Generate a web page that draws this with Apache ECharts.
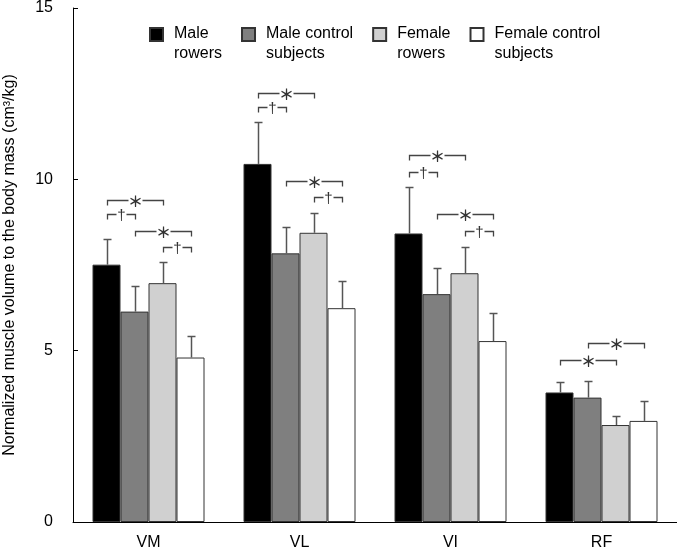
<!DOCTYPE html>
<html>
<head>
<meta charset="utf-8">
<script src="https://cdn.jsdelivr.net/npm/echarts@6/dist/echarts.min.js"></script>
<style>
html,body{margin:0;padding:0;background:#fff;}
#chart{width:677px;height:553px;}
</style>
</head>
<body>
<div id="chart"></div>
<script>
// ---- data ----
const categories = ['VM', 'VL', 'VI', 'RF'];
const seriesNames = ['Male\nrowers', 'Male control\nsubjects', 'Female\nrowers', 'Female control\nsubjects'];
const maleRowers = [7.51, 10.45, 8.42, 3.78];
const maleControl = [6.14, 7.84, 6.65, 3.63];
const femaleRowers = [6.97, 8.44, 7.26, 2.83];
const femaleControl = [4.80, 6.24, 5.28, 2.95];
const maleRowersSD = [0.76, 1.23, 1.36, 0.30];
const maleControlSD = [0.76, 0.76, 0.77, 0.48];
const femaleRowersSD = [0.63, 0.57, 0.77, 0.27];
const femaleControlSD = [0.63, 0.80, 0.83, 0.58];
const yTicks = [0, 5, 10, 15];
// significance brackets: category index, from group, to group, height, mark
const bracketCategory = [0, 0, 0, 0, 1, 1, 1, 1, 2, 2, 2, 2, 3, 3];
const bracketFrom =     [0, 0, 1, 2, 0, 0, 1, 2, 0, 0, 1, 2, 1, 0];
const bracketTo =       [2, 1, 3, 3, 2, 1, 3, 3, 2, 1, 3, 3, 3, 2];
const bracketHeight =   [9.40, 8.99, 8.49, 8.02, 12.52, 12.11, 9.95, 9.48, 10.71, 10.21, 8.99, 8.49, 5.22, 4.73];
const bracketMark =     ['*', '†', '*', '†', '*', '†', '*', '†', '*', '†', '*', '†', '*', '*'];

// ---- chart ----
const BAR_W = 28;
const FONT = 'Liberation Sans, Arial, sans-serif';
const means = [maleRowers, maleControl, femaleRowers, femaleControl];
const sds = [maleRowersSD, maleControlSD, femaleRowersSD, femaleControlSD];
const fills = ['#000000', '#7f7f7f', '#d0d0d0', '#ffffff'];

const barSeries = seriesNames.map((name, i) => ({
  name: name,
  type: 'bar',
  data: means[i],
  barWidth: BAR_W,
  barGap: '0%',
  itemStyle: { color: fills[i], borderColor: '#333', borderWidth: 1 },
  emphasis: { disabled: true },
  z: 2
}));

const errData = [];
for (let s = 0; s < 4; s++) {
  for (let c = 0; c < categories.length; c++) {
    errData.push([c, s, means[s][c], means[s][c] + sds[s][c]]);
  }
}

const errSeries = {
  type: 'custom',
  data: errData,
  z: 5,
  silent: true,
  renderItem: function (params, api) {
    const c = api.value(0), s = api.value(1);
    const p0 = api.coord([c, api.value(2)]);
    const p1 = api.coord([c, api.value(3)]);
    const x = Math.round(p0[0] + (s - 1.5) * BAR_W) + 0.5;
    const yt = Math.round(p1[1]) + 0.5;
    return {
      type: 'group',
      children: [
        { type: 'line', shape: { x1: x, y1: p0[1], x2: x, y2: yt }, style: { stroke: '#555', lineWidth: 1.5 } },
        { type: 'line', shape: { x1: x - 4, y1: yt, x2: x + 4, y2: yt }, style: { stroke: '#555', lineWidth: 1.5 } }
      ]
    };
  }
};

const bracketData = bracketCategory.map((c, i) => [c, bracketFrom[i], bracketTo[i], bracketHeight[i]]);
const bracketSeries = {
  type: 'custom',
  data: bracketData,
  z: 6,
  silent: true,
  renderItem: function (params, api) {
    const c = api.value(0), f = api.value(1), t = api.value(2);
    const p = api.coord([c, api.value(3)]);
    const x1 = Math.round(p[0] + (f - 1.5) * BAR_W) + 0.5;
    const x2 = Math.round(p[0] + (t - 1.5) * BAR_W) + 0.5;
    const y = Math.round(p[1]) + 0.5;
    const xm = (x1 + x2) / 2;
    const mark = bracketMark[params.dataIndex];
    const isStar = mark === '*';
    const gap = isStar ? 7 : 5;
    const st = { stroke: '#444', lineWidth: 1.3, fill: null };
    return {
      type: 'group',
      children: [
        { type: 'polyline', shape: { points: [[x1, y + 5], [x1, y], [xm - gap, y]] }, style: st },
        { type: 'polyline', shape: { points: [[xm + gap, y], [x2, y], [x2, y + 5]] }, style: st },
        {
          type: 'text', x: xm, y: y + 1,
          style: {
            text: isStar ? '＊' : '†',
            fontFamily: isStar ? 'Noto Sans CJK JP' : FONT,
            fontSize: 15,
            fontWeight: isStar ? 'bold' : 'normal',
            fill: '#333',
            align: 'center',
            verticalAlign: 'middle'
          }
        }
      ]
    };
  }
};

const chart = echarts.init(document.getElementById('chart'), null, { renderer: 'canvas' });
chart.setOption({
  animation: false,
  backgroundColor: '#ffffff',
  textStyle: { fontFamily: FONT },
  grid: { left: 73, right: 0, top: 8, bottom: 31, containLabel: false, outerBoundsMode: 'none' },
  legend: {
    left: 149,
    top: 23,
    padding: 0,
    orient: 'horizontal',
    itemWidth: 19,
    itemHeight: 40,
    itemGap: 19,
    icon: 'path://M0,0L0,0M0,4H13V17H0ZM19,40L19,40',
    selectedMode: false,
    data: seriesNames,
    textStyle: { fontSize: 16, lineHeight: 20, color: '#000', fontFamily: FONT }
  },
  xAxis: {
    type: 'category',
    data: categories,
    axisLine: { lineStyle: { color: '#000', width: 1 } },
    axisTick: { show: false },
    axisLabel: { fontSize: 16, color: '#000', margin: 13, fontFamily: FONT },
    splitLine: { show: false }
  },
  yAxis: {
    type: 'value',
    min: yTicks[0],
    max: yTicks[yTicks.length - 1],
    interval: yTicks[1] - yTicks[0],
    name: 'Normalized muscle volume to the body mass (cm³/kg)',
    nameLocation: 'middle',
    nameGap: 55,
    nameTextStyle: { fontSize: 16, color: '#000', fontFamily: FONT },
    axisLine: { show: true, lineStyle: { color: '#000', width: 1 } },
    axisTick: { show: true, inside: true, length: 5, lineStyle: { color: '#000' } },
    axisLabel: { fontSize: 16, color: '#000', margin: 20, fontFamily: FONT },
    splitLine: { show: false }
  },
  series: barSeries.concat([errSeries, bracketSeries])
});
</script>
</body>
</html>
